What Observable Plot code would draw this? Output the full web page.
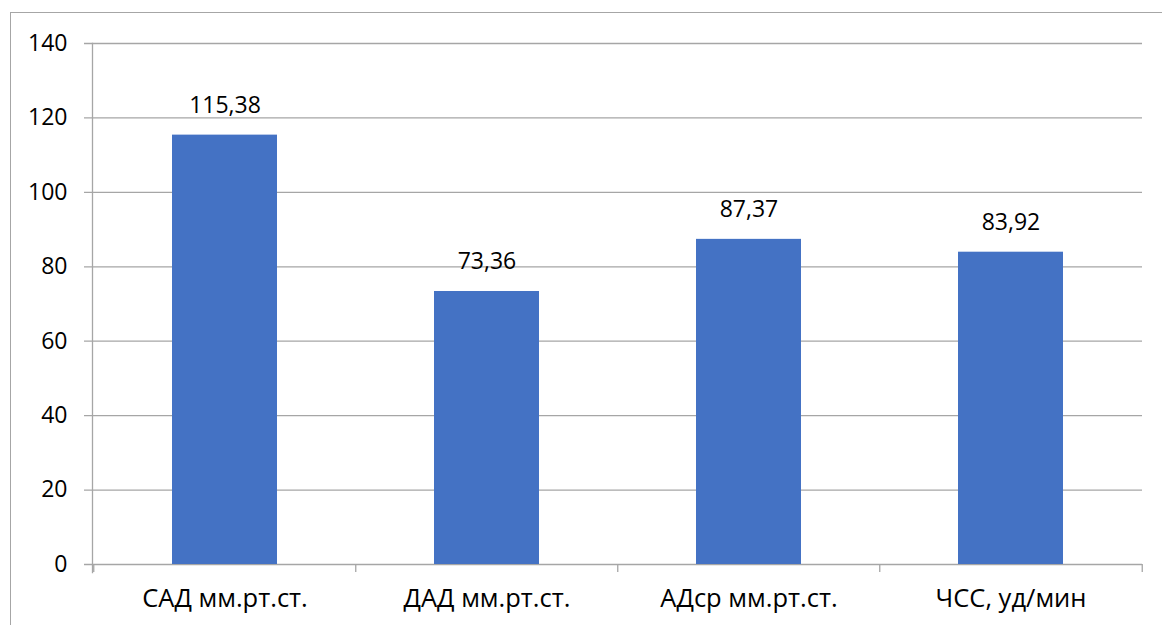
<!DOCTYPE html>
<html>
<head>
<meta charset="utf-8">
<script src="https://cdn.jsdelivr.net/npm/d3@7"></script>
<script src="https://cdn.jsdelivr.net/npm/@observablehq/plot@0.6"></script>
<style>
  html, body { margin: 0; padding: 0; background: #fff; }
  #wrap { position: relative; width: 1162px; height: 625px; overflow: hidden; }
  #border { position: absolute; left: 10px; top: 12px; width: 1200px; height: 700px;
            border-left: 1px solid #a6a6a6; border-top: 1px solid #a6a6a6; box-sizing: border-box; }
  #chart { position: absolute; left: 0; top: 0; }
</style>
</head>
<body>
<div id="wrap"><div id="border"></div><div id="chart"></div></div>
<script>
const categories = ["САД мм.рт.ст.", "ДАД мм.рт.ст.", "АДср мм.рт.ст.", "ЧСС, уд/мин"];
const values = [115.38, 73.36, 87.37, 83.92];
const yTicks = [0, 20, 40, 60, 80, 100, 120, 140];

const data = categories.map((c, i) => ({category: c, value: values[i]}));
const fmt = v => v.toFixed(2).replace(".", ",");

const W = 1162, H = 625;
const mL = 92, mR = 20, mT = 43, mB = 61;
const step = (W - mL - mR) / categories.length;
const grid = "#a6a6a6";

const chart = Plot.plot({
  width: W,
  height: H,
  marginLeft: mL,
  marginRight: mR,
  marginTop: mT,
  marginBottom: mB,
  style: {fontFamily: "'Open Sans', sans-serif", fontSize: "22px", color: "#000", background: "transparent"},
  x: {domain: categories, paddingInner: 0.6, paddingOuter: 0.3, label: null},
  y: {domain: [0, 140], label: null},
  marks: [
    Plot.ruleY(yTicks, {stroke: grid, strokeWidth: 1.3, insetLeft: -8}),
    Plot.frame({anchor: "left", stroke: grid, strokeWidth: 1.3, insetBottom: -8}),
    Plot.ruleX(categories, {x: d => d, y1: 0, y2: 0, dx: -step / 2, insetBottom: -8, stroke: grid, strokeWidth: 1.3}),
    Plot.ruleX(categories.slice(-1), {x: d => d, y1: 0, y2: 0, dx: step / 2, insetBottom: -8, stroke: grid, strokeWidth: 1.3}),
    Plot.barY(data, {x: "category", y: "value", fill: "#4472c4"}),
    Plot.text(data, {x: "category", y: "value", text: d => fmt(d.value), lineAnchor: "bottom", dy: -22, fill: "#000", fontSize: 23}),
    Plot.axisY({ticks: yTicks, tickSize: 0, tickPadding: 25, fill: "#000", fontSize: 23}),
    Plot.axisX({tickSize: 0, tickPadding: 24, fill: "#000", fontSize: 25.5})
  ]
});
document.getElementById("chart").appendChild(chart);
</script>
</body>
</html>
